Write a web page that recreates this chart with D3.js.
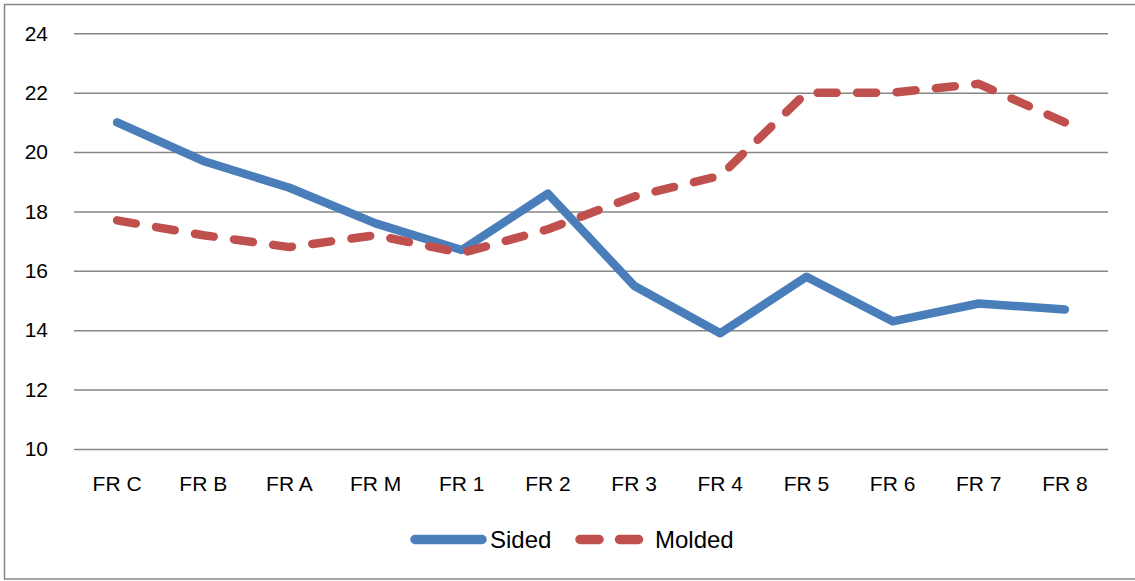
<!DOCTYPE html>
<html><head><meta charset="utf-8">
<script src="https://cdn.jsdelivr.net/npm/d3@7"></script>
<style>body{margin:0;background:#fff}svg{display:block}text{font-family:"Liberation Sans",Arial,sans-serif;fill:#000}</style>
</head><body><svg id="c" width="1135" height="581"></svg>
<script>
const categories = ["FR C","FR B","FR A","FR M","FR 1","FR 2","FR 3","FR 4","FR 5","FR 6","FR 7","FR 8"];
const sided  = [21.0,19.7,18.8,17.6,16.7,18.6,15.5,13.9,15.8,14.3,14.9,14.7];
const molded = [17.7,17.2,16.8,17.2,16.6,17.4,18.5,19.2,22.0,22.0,22.3,21.0];
const yTicks = [10,12,14,16,18,20,22,24];
const seriesNames = ["Sided","Molded"];

const svg = d3.select("#c");
svg.append("rect").attr("x",4.5).attr("y",4.5).attr("width",1140).attr("height",574.5)
  .attr("fill","#fff").attr("stroke","#868686").attr("stroke-width",1.5);

const x = d3.scaleBand().domain(categories).range([74,1108]);
const y = d3.scaleLinear().domain([10,24]).range([449,33.3]);
const FF = "Liberation Sans, Arial, sans-serif";

const gy = svg.append("g").attr("transform","translate(74,0)")
  .call(d3.axisLeft(y).tickValues(yTicks).tickSize(-1034).tickPadding(26));
gy.select(".domain").remove();
gy.selectAll(".tick line").attr("stroke","#868686").attr("stroke-width",1.5);
gy.selectAll(".tick text").attr("font-size",21).style("font-family",FF);

const gx = svg.append("g").attr("transform","translate(0,449)")
  .call(d3.axisBottom(x).tickSize(0).tickPadding(27));
gx.select(".domain").remove();
gx.selectAll(".tick text").attr("font-size",21).style("font-family",FF);

const line = d3.line().x((d,i)=>x(categories[i])+x.bandwidth()/2).y(d=>y(d));
svg.append("path").datum(sided).attr("d",line).attr("fill","none")
  .attr("stroke","#4A7EBB").attr("stroke-width",8.5).attr("stroke-linejoin","round").attr("stroke-linecap","round");
svg.append("path").datum(molded).attr("d",line).attr("fill","none")
  .attr("stroke","#C0504D").attr("stroke-width",8.5).attr("stroke-linejoin","round").attr("stroke-linecap","round")
  .attr("stroke-dasharray","19,20.5");

// legend
const lg = svg.append("g");
lg.append("line").attr("x1",415).attr("x2",482).attr("y1",539.5).attr("y2",539.5)
  .attr("stroke","#4A7EBB").attr("stroke-width",9.5).attr("stroke-linecap","round");
lg.append("text").attr("x",490).attr("y",548.3).attr("font-size",24).style("font-family",FF).text(seriesNames[0]);
lg.append("line").attr("x1",580).attr("x2",639).attr("y1",539.5).attr("y2",539.5)
  .attr("stroke","#C0504D").attr("stroke-width",9.5).attr("stroke-linecap","round").attr("stroke-dasharray","19,20.5");
lg.append("text").attr("x",655).attr("y",548.3).attr("font-size",24).style("font-family",FF).text(seriesNames[1]);
</script></body></html>
